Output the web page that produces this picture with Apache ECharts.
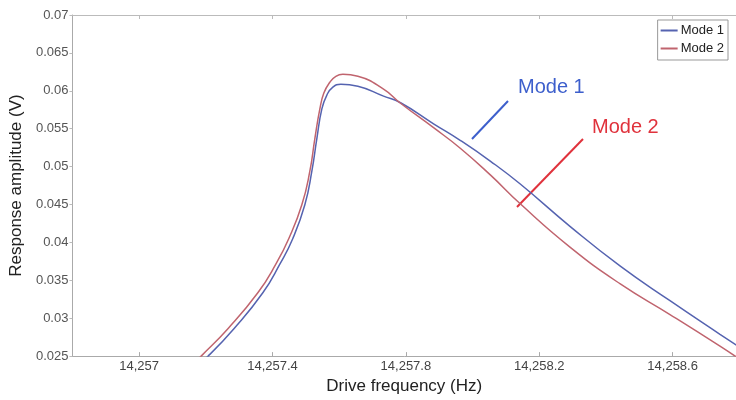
<!DOCTYPE html>
<html>
<head>
<meta charset="utf-8">
<script src="https://cdn.jsdelivr.net/npm/echarts@6/dist/echarts.min.js"></script>
<style>html,body{margin:0;padding:0;background:#fff}#c{width:736px;height:400px}</style>
</head>
<body>
<div id="c"></div>
<script>
// Mode 1: drive frequency (Hz) and response amplitude (V)
const freq1 = [14257.156, 14257.207, 14257.285, 14257.371, 14257.422, 14257.461, 14257.497, 14257.518, 14257.533, 14257.548, 14257.563, 14257.581, 14257.605, 14257.656, 14257.733, 14257.784, 14257.883, 14257.964, 14258.054, 14258.143, 14258.293, 14258.443, 14258.592, 14258.742, 14258.800];
const mode1 = [0.02305, 0.02500, 0.02865, 0.03335, 0.03713, 0.04052, 0.04496, 0.04939, 0.05370, 0.05761, 0.05944, 0.06048, 0.06087, 0.06061, 0.05930, 0.05842, 0.05565, 0.05344, 0.05070, 0.04770, 0.04209, 0.03687, 0.03231, 0.02787, 0.02618];
// Mode 2: drive frequency (Hz) and response amplitude (V)
const freq2 = [14257.141, 14257.186, 14257.267, 14257.356, 14257.410, 14257.449, 14257.488, 14257.512, 14257.527, 14257.542, 14257.554, 14257.572, 14257.590, 14257.611, 14257.656, 14257.733, 14257.784, 14257.883, 14257.964, 14258.054, 14258.143, 14258.293, 14258.443, 14258.592, 14258.742, 14258.800];
const mode2 = [0.02305, 0.02500, 0.02865, 0.03335, 0.03713, 0.04052, 0.04496, 0.04939, 0.05370, 0.05761, 0.05970, 0.06113, 0.06191, 0.06217, 0.06191, 0.06022, 0.05836, 0.05513, 0.05239, 0.04887, 0.04509, 0.03935, 0.03452, 0.03048, 0.02631, 0.02461];
const seriesNames = ['Mode 1', 'Mode 2'];
const xTicks = [14257, 14257.4, 14257.8, 14258.2, 14258.6];

const chart = echarts.init(document.getElementById('c'));
const FONT = 'Liberation Sans, Arial, sans-serif';
const fmtX = v => {
  const s = (+v).toFixed(1).replace(/\.0$/, '');
  const [i, d] = s.split('.');
  return i.replace(/\B(?=(\d{3})+(?!\d))/g, ',') + (d ? '.' + d : '');
};
const C1 = '#5563b0', C2 = '#c0646e';
chart.setOption({
  animation: false,
  backgroundColor: '#fff',
  grid: { left: 71, top: 15, right: 0, bottom: 40 },
  legend: {
    data: seriesNames,
    orient: 'vertical',
    right: 8, top: 20,
    icon: 'rect',
    itemWidth: 17, itemHeight: 2, itemGap: 5,
    padding: [4, 4, 5, 3],
    borderColor: '#999', borderWidth: 1,
    textStyle: { fontFamily: FONT, fontSize: 13, color: '#222', padding: [0, 0, 0, -2] }
  },
  xAxis: [{
    type: 'value', min: 14256.8, max: 14258.79,
    name: 'Drive frequency (Hz)', nameLocation: 'middle', nameGap: 21,
    nameTextStyle: { fontFamily: FONT, fontSize: 17, color: '#222' },
    axisLine: { lineStyle: { color: '#aaa' } },
    axisTick: { inside: true, length: 4, customValues: xTicks, lineStyle: { color: '#aaa' } },
    axisLabel: { customValues: xTicks, formatter: fmtX, fontFamily: FONT, fontSize: 13, color: '#444', margin: 4 },
    splitLine: { show: false }
  }, {
    type: 'value', position: 'top', min: 14256.8, max: 14258.79,
    axisLine: { show: true, lineStyle: { color: '#bbb' } },
    axisTick: { inside: true, length: 4, customValues: xTicks, lineStyle: { color: '#bbb' } },
    axisLabel: { show: false }, splitLine: { show: false }
  }],
  yAxis: {
    type: 'value', min: 0.025, max: 0.07, interval: 0.005,
    name: 'Response amplitude (V)', nameLocation: 'middle', nameGap: 44,
    nameTextStyle: { fontFamily: FONT, fontSize: 17, color: '#222' },
    axisLine: { show: true, lineStyle: { color: '#aaa' } },
    axisTick: { show: true, length: 3, lineStyle: { color: '#bbb' } },
    axisLabel: { formatter: v => String(+(+v).toFixed(3)), fontFamily: FONT, fontSize: 13, color: '#555', margin: 4 },
    splitLine: { show: false }
  },
  series: [
    { name: seriesNames[0], type: 'line', symbol: 'none', smooth: 0.5, clip: true,
      data: freq1.map((f, i) => [f, mode1[i]]),
      lineStyle: { color: C1, width: 1.5 }, itemStyle: { color: C1 } },
    { name: seriesNames[1], type: 'line', symbol: 'none', smooth: 0.5, clip: true,
      data: freq2.map((f, i) => [f, mode2[i]]),
      lineStyle: { color: C2, width: 1.5 }, itemStyle: { color: C2 } }
  ],
  graphic: [
    { type: 'line', shape: { x1: 472, y1: 139, x2: 508, y2: 101 }, style: { stroke: '#3d5fcc', lineWidth: 2 } },
    { type: 'line', shape: { x1: 517, y1: 207, x2: 583, y2: 139 }, style: { stroke: '#e0323c', lineWidth: 2 } },
    { type: 'text', left: 518, top: 77, style: { text: 'Mode 1', fontFamily: FONT, fontSize: 20, fill: '#3d5fcc' } },
    { type: 'text', left: 592, top: 117, style: { text: 'Mode 2', fontFamily: FONT, fontSize: 20, fill: '#e0323c' } }
  ]
});
</script>
</body>
</html>
